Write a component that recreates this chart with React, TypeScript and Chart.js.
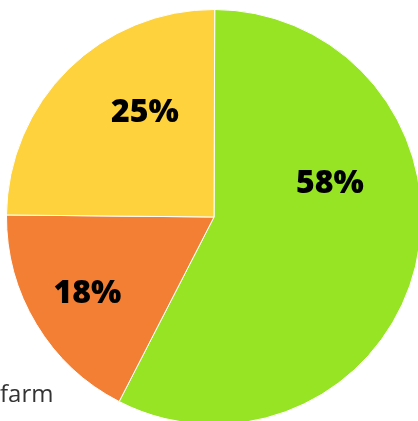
import React, { useEffect, useRef } from "react";
import { Chart, registerables } from "chart.js";

Chart.register(...registerables);

const categories = ["Green", "Orange", "Yellow"];
const values = [57.5, 17.6, 24.9];
const percentLabels = ["58%", "18%", "25%"];
const colors = ["#96E424", "#F27F33", "#FDD23C"];
const sideText = "farm";

const labelPlugin = {
  id: "pctLabels",
  beforeDatasetsDraw(chart: any) {
    const ctx = chart.ctx;
    const meta = chart.getDatasetMeta(0);
    const arc = meta.data[0];
    if (!arc) return;
    ctx.save();
    ctx.font = "400 24px 'Open Sans'";
    ctx.fillStyle = "#333333";
    ctx.textAlign = "left";
    ctx.textBaseline = "alphabetic";
    ctx.fillText(sideText, 0, arc.y + arc.outerRadius * 0.891);
    ctx.restore();
  },
  afterDatasetsDraw(chart: any, _args: any, opts: any) {
    const ctx = chart.ctx;
    const meta = chart.getDatasetMeta(0);
    ctx.save();
    ctx.font = "800 32px 'Open Sans'";
    ctx.fillStyle = "#000000";
    ctx.textAlign = "center";
    ctx.textBaseline = "middle";
    meta.data.forEach((el: any, i: number) => {
      const [angDeg, frac] = opts.anchors[i];
      const a = (angDeg - 90) * Math.PI / 180;
      const r = el.outerRadius * frac;
      ctx.fillText(percentLabels[i], el.x + Math.cos(a) * r, el.y + Math.sin(a) * r + 1);
    });
    ctx.restore();
  },
};

export default function App() {
  const ref = useRef<HTMLCanvasElement>(null);
  useEffect(() => {
    if (!ref.current) return;
    const chart = new Chart(ref.current, {
      type: "pie",
      data: {
        labels: categories,
        datasets: [
          {
            data: values,
            backgroundColor: colors,
            borderColor: "#ffffff",
            borderWidth: 1,
          },
        ],
      },
      options: {
        responsive: false,
        animation: false,
        rotation: 0.2,
        layout: { padding: { left: 6, top: 9, right: 0, bottom: 0 } },
        plugins: {
          legend: { display: false },
          tooltip: { enabled: false },
          pctLabels: {
            anchors: [
              [73.4, 0.583],
              [239.2, 0.71],
              [326.8, 0.608],
            ],
          },
        } as any,
      },
      plugins: [labelPlugin],
    });
    return () => chart.destroy();
  }, []);
  return (
    <div style={{ position: "absolute", left: 0, top: 0, width: 418, height: 421, overflow: "hidden" }}>
      <canvas ref={ref} width={422} height={425} style={{ display: "block", width: 422, height: 425 }} />
    </div>
  );
}
